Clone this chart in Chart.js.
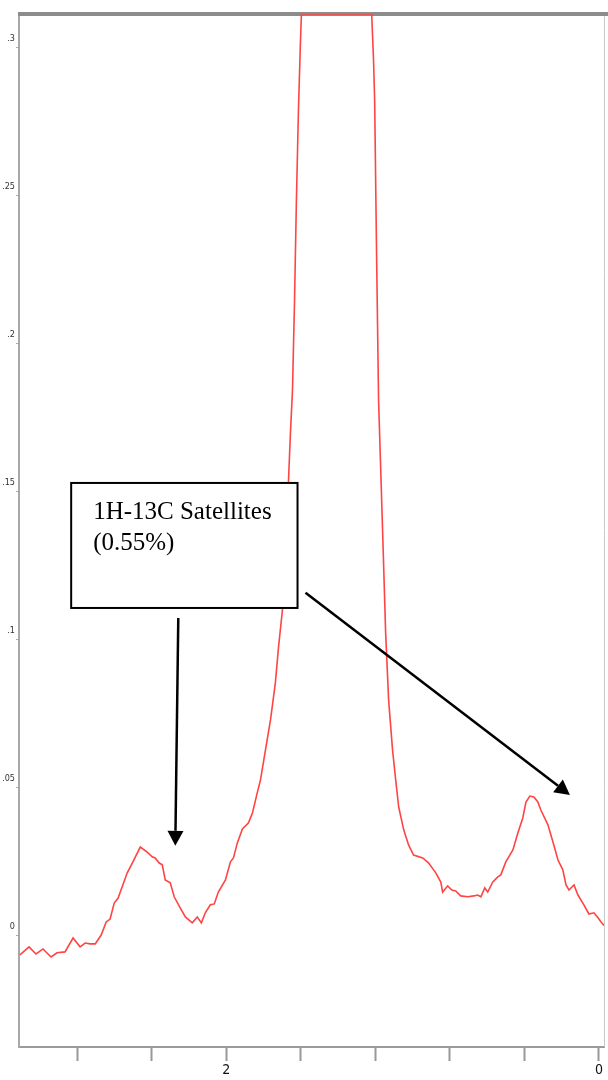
<!DOCTYPE html>
<html>
<head>
<meta charset="utf-8">
<script src="https://cdn.jsdelivr.net/npm/chart.js"></script>
<style>
  html, body { margin: 0; padding: 0; background: #fff; }
  #wrap { width: 608px; height: 1080px; position: relative; }
</style>
</head>
<body>
<div id="wrap"><canvas id="spectrum"></canvas></div>
<script>
// chemical shift (ppm, axis runs right to left) and intensity
const shift = [
  3.108, 3.059, 3.022, 2.984, 2.941, 2.909, 2.866, 2.823, 2.785, 2.758,
  2.731, 2.704, 2.672, 2.645, 2.624, 2.602, 2.581, 2.532, 2.505, 2.462,
  2.425, 2.398, 2.382, 2.360, 2.344, 2.328, 2.301, 2.280, 2.247, 2.220,
  2.183, 2.156, 2.134, 2.113, 2.086, 2.065, 2.043, 2.005, 1.978, 1.962,
  1.941, 1.914, 1.882, 1.860, 1.833, 1.817, 1.790, 1.763, 1.737, 1.720,
  1.699, 1.683, 1.667, 1.656, 1.645, 1.634, 1.624, 1.613, 1.602, 1.597,
  1.220, 1.210, 1.204, 1.194, 1.183, 1.161, 1.145, 1.129, 1.108, 1.091,
  1.075, 1.048, 1.022, 0.995, 0.946, 0.914, 0.876, 0.849, 0.839, 0.812,
  0.790, 0.769, 0.742, 0.704, 0.672, 0.651, 0.634, 0.613, 0.597, 0.570,
  0.543, 0.527, 0.500, 0.462, 0.435, 0.409, 0.392, 0.371, 0.349, 0.328,
  0.312, 0.274, 0.247, 0.220, 0.194, 0.177, 0.161, 0.134, 0.113, 0.081,
  0.054, 0.027, 0.005, -0.011, -0.027
];
const intensity = [
  -0.0064, -0.0037, -0.0061, -0.0044, -0.0071, -0.0057, -0.0054, -0.0007, -0.0037, -0.0024,
  -0.0027, -0.0027, 0.0003, 0.0047, 0.0057, 0.0111, 0.0128, 0.0213, 0.0246, 0.0300,
  0.0283, 0.0267, 0.0263, 0.0246, 0.0240, 0.0189, 0.0179, 0.0132, 0.0094, 0.0064,
  0.0044, 0.0064, 0.0044, 0.0078, 0.0105, 0.0108, 0.0148, 0.0189, 0.0250, 0.0263,
  0.0314, 0.0361, 0.0381, 0.0415, 0.0486, 0.0526, 0.0628, 0.0729, 0.0854, 0.0975,
  0.1100, 0.1303, 0.1529, 0.1698, 0.1843, 0.2146, 0.2484, 0.2788, 0.3024, 0.3112,
  0.3112, 0.2956, 0.2821, 0.2315, 0.1809, 0.1360, 0.1023, 0.0796, 0.0628, 0.0526,
  0.0435, 0.0358, 0.0307, 0.0273, 0.0263, 0.0246, 0.0213, 0.0182, 0.0148, 0.0169,
  0.0155, 0.0152, 0.0135, 0.0132, 0.0135, 0.0138, 0.0132, 0.0162, 0.0148, 0.0182,
  0.0199, 0.0206, 0.0250, 0.0290, 0.0348, 0.0398, 0.0452, 0.0472, 0.0469, 0.0452,
  0.0425, 0.0375, 0.0317, 0.0256, 0.0223, 0.0172, 0.0155, 0.0172, 0.0138, 0.0105,
  0.0074, 0.0078, 0.0061, 0.0047, 0.0035
];

const xTickValues = [2.8, 2.4, 2.0, 1.6, 1.2, 0.8, 0.4, 0];
const xTickLabels = ['', '', '2', '', '', '', '', '0'];
const yTickValues = [0, 0.05, 0.1, 0.15, 0.2, 0.25, 0.3];
const yTickLabels = ['0', '.05', '.1', '.15', '.2', '.25', '.3'];

const noteLines = ['1H-13C Satellites', '(0.55%)'];

// frame (top bar, right edge) + callout box and arrows
const framePlugin = {
  id: 'frame',
  beforeDatasetsDraw(chart) {
    const { ctx, chartArea: a } = chart;
    ctx.save();
    ctx.strokeStyle = '#c8c8c8';
    ctx.lineWidth = 1;
    ctx.beginPath();
    ctx.moveTo(a.right + 0.5, a.top);
    ctx.lineTo(a.right + 0.5, a.bottom);
    ctx.stroke();
    ctx.strokeStyle = '#8c8c8c';
    ctx.lineWidth = 4;
    ctx.beginPath();
    ctx.moveTo(a.left - 1, a.top);
    ctx.lineTo(chart.width, a.top);
    ctx.stroke();
    ctx.restore();
  }
};

function arrow(ctx, x1, y1, x2, y2) {
  const ang = Math.atan2(y2 - y1, x2 - x1);
  const len = 15, half = 8;
  const bx = x2 - len * Math.cos(ang), by = y2 - len * Math.sin(ang);
  ctx.beginPath();
  ctx.moveTo(x1, y1);
  ctx.lineTo(bx, by);
  ctx.stroke();
  ctx.beginPath();
  ctx.moveTo(x2, y2);
  ctx.lineTo(bx + half * Math.sin(ang), by - half * Math.cos(ang));
  ctx.lineTo(bx - half * Math.sin(ang), by + half * Math.cos(ang));
  ctx.closePath();
  ctx.fill();
}

const notePlugin = {
  id: 'note',
  afterDatasetsDraw(chart) {
    const { ctx, scales: { x, y } } = chart;
    const bx1 = x.getPixelForValue(2.833), bx2 = x.getPixelForValue(1.618);
    const by1 = y.getPixelForValue(0.1529), by2 = y.getPixelForValue(0.1107);
    ctx.save();
    ctx.fillStyle = '#fff';
    ctx.fillRect(bx1, by1, bx2 - bx1, by2 - by1);
    ctx.strokeStyle = '#000';
    ctx.lineWidth = 2;
    ctx.strokeRect(bx1, by1, bx2 - bx1, by2 - by1);
    ctx.fillStyle = '#000';
    ctx.font = '25px "Liberation Serif", "Times New Roman", serif';
    ctx.textBaseline = 'alphabetic';
    ctx.fillText(noteLines[0], bx1 + 22, by1 + 36);
    ctx.fillText(noteLines[1], bx1 + 22, by1 + 67);

    ctx.lineWidth = 2.5;
    arrow(ctx, x.getPixelForValue(2.258), y.getPixelForValue(0.1073),
               x.getPixelForValue(2.274), y.getPixelForValue(0.0304));
    arrow(ctx, x.getPixelForValue(1.575), y.getPixelForValue(0.1158),
               x.getPixelForValue(0.156), y.getPixelForValue(0.0476));
    ctx.restore();
  }
};

new Chart(document.getElementById('spectrum'), {
  type: 'line',
  data: {
    datasets: [{
      data: shift.map((s, i) => ({ x: s, y: intensity[i] })),
      borderColor: '#ff4444',
      borderWidth: 1.6,
      pointRadius: 0,
      tension: 0,
      fill: false
    }]
  },
  options: {
    responsive: true,
    maintainAspectRatio: false,
    animation: false,
    layout: { padding: { top: 14, right: 4, left: 0, bottom: 0 } },
    plugins: { legend: { display: false }, tooltip: { enabled: false } },
    scales: {
      x: {
        type: 'linear',
        reverse: true,
        min: -0.027,
        max: 3.113,
        afterBuildTicks: s => { s.ticks = xTickValues.map(v => ({ value: v })); },
        afterFit: s => { s.height = 33; },
        ticks: {
          callback: (v, i) => xTickLabels[i],
          autoSkip: false,
          maxRotation: 0,
          padding: 1,
          color: '#111',
          font: { family: '"DejaVu Sans Condensed", "DejaVu Sans", sans-serif', size: 14 }
        },
        grid: { drawOnChartArea: false, drawTicks: true, tickLength: 14, tickColor: '#999', tickWidth: 2 },
        border: { color: '#9a9a9a', width: 2 }
      },
      y: {
        type: 'linear',
        min: -0.0375,
        max: 0.3112,
        afterBuildTicks: s => { s.ticks = yTickValues.map(v => ({ value: v })); },
        afterFit: s => { s.width = 19; },
        ticks: {
          callback: (v, i) => yTickLabels[i],
          autoSkip: false,
          padding: 1,
          labelOffset: -9,
          color: '#333',
          font: { family: '"DejaVu Sans Condensed", "DejaVu Sans", sans-serif', size: 9 }
        },
        grid: { drawOnChartArea: false, drawTicks: true, tickLength: 3, tickColor: '#aaa', tickWidth: 1 },
        border: { color: '#a8a8a8', width: 2 }
      }
    }
  },
  plugins: [framePlugin, notePlugin]
});
</script>
</body>
</html>
